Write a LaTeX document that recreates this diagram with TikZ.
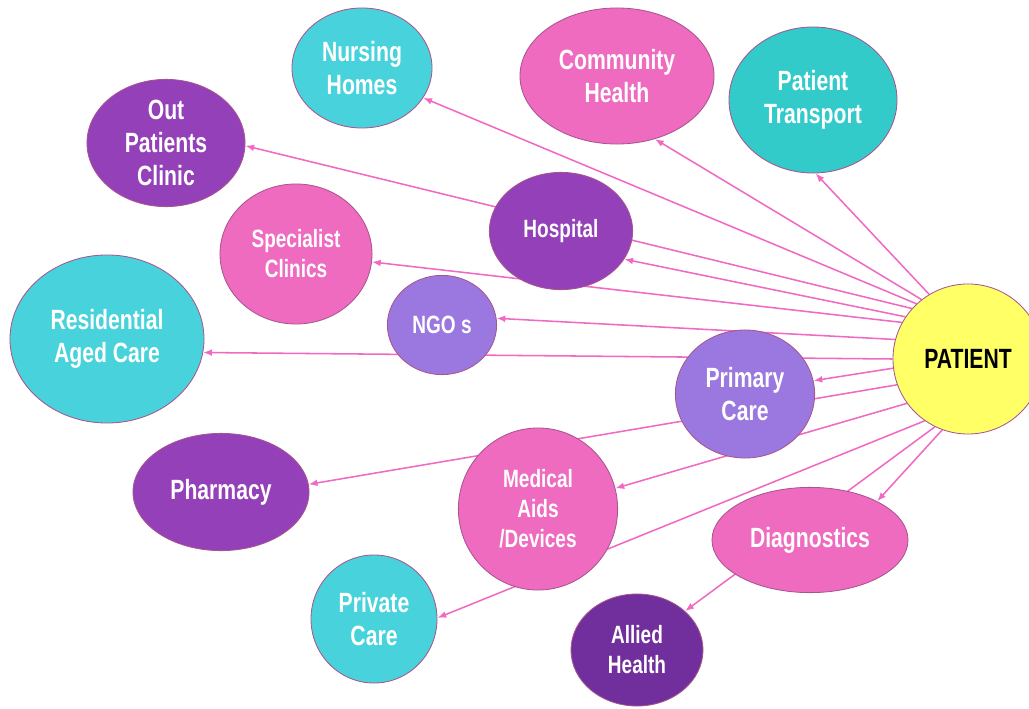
\documentclass[tikz,border=0pt]{standalone}
\usepackage{fontspec}
\setmainfont{Liberation Sans}[FakeStretch=0.76]
\usetikzlibrary{shapes.geometric,arrows.meta,backgrounds}
\definecolor{cyanbub}{HTML}{48D3DC}
\definecolor{tealbub}{HTML}{33CACA}
\definecolor{pinkbub}{HTML}{EF6BBF}
\definecolor{purpbub}{HTML}{9440B9}
\definecolor{lavbub}{HTML}{9A78E0}
\definecolor{darkbub}{HTML}{702F9C}
\definecolor{patcol}{HTML}{FFFF66}
\definecolor{rimcol}{HTML}{A8558F}
\definecolor{linkcol}{HTML}{F06AC4}
\tikzset{
  bub/.style={ellipse,draw=rimcol,line width=0.6pt,inner sep=0pt,align=center,
    text=white,font=\bfseries\fontsize{19.8}{23.4}\selectfont},
  smallbub/.style={bub,font=\bfseries\fontsize{17.8}{21.3}\selectfont},
  link/.style={draw=linkcol,line width=1.1pt,-{Latex[length=2.2mm,width=1.7mm]}}
}
\begin{document}
\begin{tikzpicture}[x=0.025cm,y=-0.025cm]
  \useasboundingbox (0,0) rectangle (1029,708);
  \clip (0,0) rectangle (1029,708);
  \node[bub,fill=patcol,text=black,minimum size=3.75cm] (patient) at (968,359) {PATIENT};
  \node[bub,fill=cyanbub,minimum width=3.5cm,minimum height=3cm] (nursing) at (362,68) {Nursing\\Homes};
  \node[bub,fill=pinkbub,minimum width=4.85cm,minimum height=3.4cm] (community) at (617,76) {Community\\Health};
  \node[bub,fill=tealbub,minimum width=4.2cm,minimum height=3.65cm] (transport) at (813,100) {Patient\\Transport};
  \node[bub,fill=purpbub,minimum width=3.95cm,minimum height=3.18cm] (outpat) at (166,143) {Out\\Patients\\Clinic};
  \node[smallbub,fill=purpbub,minimum width=3.58cm,minimum height=2.93cm] (hospital) at (561,231) {Hospital};
  \node[smallbub,fill=pinkbub,minimum width=3.8cm,minimum height=3.5cm] (specialist) at (296,254) {Specialist\\Clinics};
  \node[smallbub,fill=lavbub,minimum width=2.73cm,minimum height=2.48cm] (ngo) at (442,325) {NGO s};
  \node[bub,fill=cyanbub,minimum width=4.85cm,minimum height=4.2cm] (resid) at (107,339) {Residential\\Aged Care};
  \node[bub,fill=lavbub,minimum width=3.48cm,minimum height=3.2cm] (primary) at (745,394) {Primary\\Care};
  \node[bub,fill=purpbub,minimum width=4.4cm,minimum height=2.93cm] (pharmacy) at (221,492) {Pharmacy};
  \node[smallbub,fill=pinkbub,minimum width=3.98cm,minimum height=4.05cm] (medical) at (538,509) {Medical\\Aids\\/Devices};
  \node[bub,fill=cyanbub,minimum width=3.15cm,minimum height=3.2cm] (private) at (374,619) {Private\\Care};
  \node[bub,fill=pinkbub,minimum width=4.9cm,minimum height=2.63cm] (diag) at (810,540) {Diagnostics};
  \node[smallbub,fill=darkbub,minimum width=3.3cm,minimum height=2.8cm] (allied) at (637,650) {Allied\\Health};
  \begin{scope}[on background layer]
    \draw[link] (patient.133) -- (nursing.-26);
    \draw[link] (patient.128) -- (community.-59);
    \draw[link] (patient.121) -- (transport.-88);
    \draw[link] (patient.138) -- (outpat.-2);
    \draw[link] (patient.146) -- (hospital.-24);
    \draw[link] (patient.151) -- (specialist.-6);
    \draw[link] (patient.165) -- (ngo.7);
    \draw[link] (patient.180) -- (resid.-8);
    \draw[link] (patient.187) -- (primary.11);
    \draw[link] (patient.200) -- (pharmacy.5);
    \draw[link] (patient.216) -- (medical.15);
    \draw[link] (patient.235) -- (private.1);
    \draw[link] (patient.250) -- (diag.30);
    \draw[link] (patient.244) -- (allied.39);
  \end{scope}
\end{tikzpicture}
\end{document}
